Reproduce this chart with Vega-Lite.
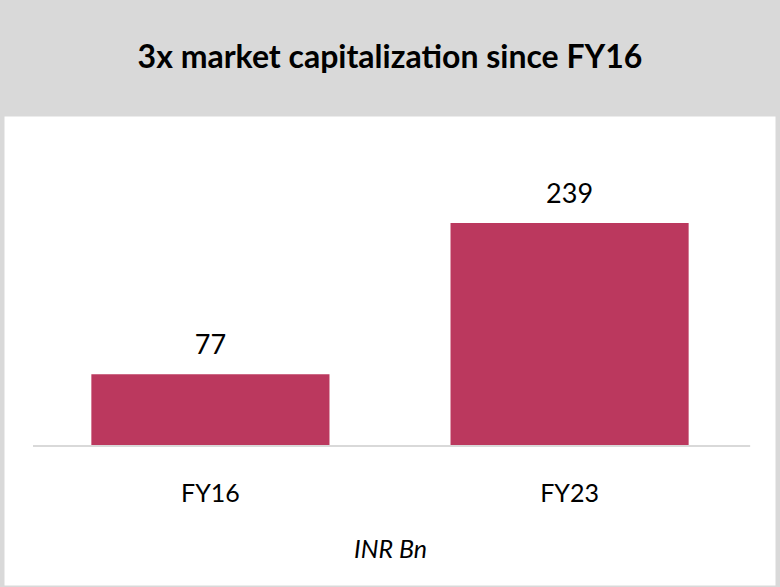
{
  "$schema": "https://vega.github.io/schema/vega-lite/v6.json",
  "background": "#D9D9D9",
  "padding": {"top": 42, "left": 3, "right": 3, "bottom": 2},
  "width": 774,
  "height": 472,
  "title": {
    "text": "3x market capitalization since FY16",
    "font": "Lato",
    "fontSize": 32,
    "fontWeight": "bold",
    "color": "#000000",
    "anchor": "middle",
    "offset": 40
  },
  "config": {
    "view": {"fill": "white", "stroke": "#D9D9D9", "strokeWidth": 3},
    "font": "Lato"
  },
  "data": {
    "values": [
      {"year": "FY16", "value": 77},
      {"year": "FY23", "value": 239}
    ]
  },
  "encoding": {
    "x": {
      "field": "year",
      "type": "nominal",
      "scale": {"paddingInner": 0.337, "paddingOuter": 0.246},
      "axis": {
        "orient": "bottom",
        "offset": -141,
        "domain": false,
        "ticks": false,
        "labelAngle": 0,
        "labelFont": "Lato",
        "labelFontSize": 25,
        "labelColor": "#000000",
        "labelPadding": 35,
        "title": "INR Bn",
        "titleFont": "Lato",
        "titleFontSize": 25,
        "titleFontStyle": "italic",
        "titleFontWeight": "normal",
        "titleColor": "#000000",
        "titlePadding": 31
      }
    }
  },
  "layer": [
    {
      "mark": {"type": "bar", "color": "#BB385E"},
      "encoding": {
        "y": {
          "field": "value",
          "type": "quantitative",
          "scale": {"domain": [-151.1, 354.8], "nice": false, "zero": false},
          "axis": null
        }
      }
    },
    {
      "mark": {"type": "text", "font": "Lato", "fontSize": 27, "color": "#000000", "baseline": "alphabetic", "dy": -20},
      "encoding": {
        "y": {"field": "value", "type": "quantitative"},
        "text": {"field": "value", "type": "quantitative"}
      }
    },
    {
      "mark": {"type": "rule", "color": "#D9D9D9", "strokeWidth": 2},
      "encoding": {
        "x": {"datum": "FY16", "bandPosition": -0.245},
        "x2": {"datum": "FY23", "bandPosition": 1.258},
        "y": {"datum": 0}
      }
    }
  ]
}
